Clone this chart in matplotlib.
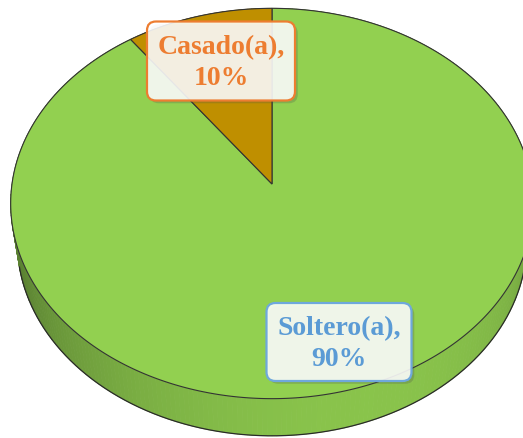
import numpy as np
import matplotlib
matplotlib.use("Agg")
import matplotlib.pyplot as plt
from matplotlib.patches import Polygon, FancyBboxPatch
import matplotlib.patheffects as pe

# ---- data ----
categories = ["Soltero(a)", "Casado(a)"]
values = [90, 10]
slice_colors = ["#92D050", "#BF8F00"]
text_colors = ["#5B9BD5", "#ED7D31"]
edge_colors = ["#6FA8DC", "#ED7D31"]

# ---- layout / style ----
W, H = 523, 439
label_pos = [(339, 343), (221, 62)]
box_size = [(145, 78), (148, 79)]

# perspective camera
alpha = np.radians(48.0)
D = 6.70
F = 1742.0
cx0, cy0 = 272.0, 185.0
h = 0.229
s_, c_ = np.sin(alpha), np.cos(alpha)
C = np.array([0.0, -D * c_, D * s_])
fvec = np.array([0.0, c_, -s_])
rvec = np.array([1.0, 0.0, 0.0])
uvec = np.array([0.0, s_, c_])


def proj(P):
    P = np.atleast_2d(P)
    d = P - C
    depth = d @ fvec
    X = (d @ rvec) / depth * F
    Y = (d @ uvec) / depth * F
    return np.column_stack([cx0 + X, cy0 - Y])


def rim(theta, z):
    # theta clockwise from far side (+y), seen from above
    return np.column_stack([np.sin(theta), np.cos(theta), np.full_like(theta, z)])


fig = plt.figure(figsize=(W / 100, H / 100), dpi=100)
ax = fig.add_axes([0, 0, 1, 1])
ax.set_xlim(0, W)
ax.set_ylim(H, 0)
ax.set_aspect("auto")
ax.axis("off")

total = float(sum(values))
fracs = np.array(values) / total
starts = np.concatenate([[0], np.cumsum(fracs)[:-1]]) * 2 * np.pi
ends = np.cumsum(fracs) * 2 * np.pi

# ---- side (cylinder wall) ----
L = np.array([0.35, -1.0, 0.0])
L = L / np.linalg.norm(L)
strips = []
for i, (a0, a1) in enumerate(zip(starts, ends)):
    n = max(int((a1 - a0) / np.radians(1.0)), 2)
    ts = np.linspace(a0, a1, n + 1)
    base = np.array(matplotlib.colors.to_rgb(slice_colors[i]))
    for t1, t2 in zip(ts[:-1], ts[1:]):
        tm = 0.5 * (t1 + t2)
        nrm = np.array([np.sin(tm), np.cos(tm), 0.0])
        depthkey = -np.cos(tm)  # near side drawn last
        shade = 0.62 + 0.32 * max(0.0, nrm @ L)
        col = np.clip(base * shade, 0, 1)
        top = proj(rim(np.array([t1, t2]), 0.0))
        bot = proj(rim(np.array([t2, t1]), -h))
        strips.append((depthkey, np.vstack([top, bot]), col))
strips.sort(key=lambda s: s[0])
for _, poly, col in strips:
    ax.add_patch(Polygon(poly, closed=True, facecolor=col, edgecolor=col, lw=0.6))

# side outline (visible bottom rim)
tt = np.linspace(0, 2 * np.pi, 1441)
rim_pts = rim(tt, -h)
normals = np.column_stack([np.sin(tt), np.cos(tt), np.zeros_like(tt)])
visible = np.einsum("ij,ij->i", normals, C - rim_pts) > 0
order = np.roll(np.arange(len(tt)), -len(tt) // 4)  # start from left (theta=90deg) to avoid wrap
botrim = proj(rim_pts)
vis_idx = [k for k in order if visible[k]]
ax.plot(botrim[vis_idx, 0], botrim[vis_idx, 1], color="#2a2a2a", lw=0.9)

# ---- top face ----
center = proj(np.array([0.0, 0.0, 0.0]))[0]
for i, (a0, a1) in enumerate(zip(starts, ends)):
    ts = np.linspace(a0, a1, max(int((a1 - a0) / np.radians(0.5)), 2))
    arc = proj(rim(ts, 0.0))
    poly = np.vstack([center, arc])
    ax.add_patch(Polygon(poly, closed=True, facecolor=slice_colors[i],
                         edgecolor="#333333", lw=0.8, joinstyle="miter"))

# ---- labels ----
for i, cat in enumerate(categories):
    x, y = label_pos[i]
    bw, bh = box_size[i]
    box = FancyBboxPatch((x - bw / 2, y - bh / 2), bw, bh,
                         boxstyle="round,pad=0,rounding_size=9",
                         facecolor=(1, 1, 1, 0.88), edgecolor=edge_colors[i], lw=1.6,
                         path_effects=[pe.SimplePatchShadow(offset=(2, -2), alpha=0.25),
                                       pe.Normal()])
    ax.add_patch(box)
    ax.text(x, y + 1, f"{cat},\n{values[i]}%", ha="center", va="center",
            color=text_colors[i], fontsize=20, fontweight="bold",
            family=["Liberation Serif", "DejaVu Serif"], linespacing=1.3)

fig.savefig("out.png", dpi=100)
